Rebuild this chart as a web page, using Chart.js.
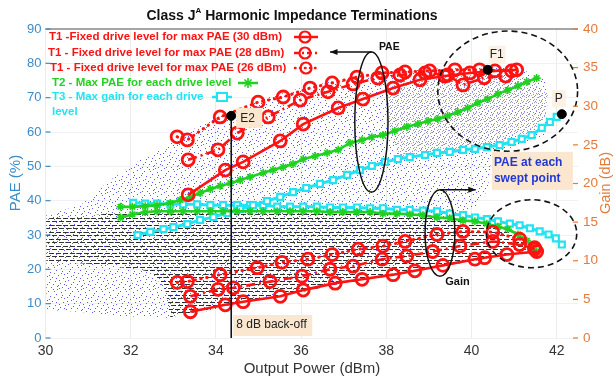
<!DOCTYPE html>
<html>
<head>
<meta charset="utf-8">
<script src="https://cdn.jsdelivr.net/npm/chart.js@4.4.1/dist/chart.umd.min.js"></script>
<style>
  html, body { margin: 0; padding: 0; background: #fff; }
  canvas { display: block; }
</style>
</head>
<body>
<canvas id="c" width="615" height="381"></canvas>
<script>
// ---------- tick labels ----------
const powerTicks = [30, 32, 34, 36, 38, 40, 42];            // Output power (dBm)
const paeTicks   = [0, 10, 20, 30, 40, 50, 60, 70, 80, 90]; // PAE (%)
const gainTicks  = [0, 5, 10, 15, 20, 25, 30, 35, 40];      // Gain (dB)

// ---------- T1: fixed drive level, PAE (%) vs Pout (dBm) ----------
const t1Drive30Pae = [[33.35,41.7],[34.22,48.9],[34.64,51.3],[35.51,57.4],[36.05,62.3],[36.87,67.0],[37.45,69.6],[38.16,72.8],[38.79,75.2],[39.37,76.3],[39.96,77.2],[40.55,77.8],[41.06,78.1]];
const t1Drive28Pae = [[33.35,51.9],[34.05,54.8],[34.5,59.7],[35.23,64.4],[35.98,69.3],[36.63,71.7],[37.22,74.0],[37.8,75.7],[38.32,76.6],[38.91,77.2],[39.44,76.6],[39.8,73.7],[40.3,75.8],[40.8,76.3]];
const t1Drive26Pae = [[33.09,58.6],[33.33,57.7],[34.1,64.4],[34.99,68.7],[35.58,70.2],[36.21,72.8],[36.73,74.3],[37.31,76.0],[37.9,77.2],[38.44,77.5],[39.02,77.8],[39.61,78.1],[40.19,78.1],[40.94,77.8]];

// ---------- T1: fixed drive level, gain (dB) vs Pout (dBm) ----------
const t1Drive30Gain = [[33.4,3.4],[34.22,4.3],[34.64,4.7],[35.51,5.4],[36.05,6.2],[36.8,7.1],[37.43,7.6],[38.16,8.2],[38.67,8.7],[39.33,9.4],[40.08,10.2],[40.31,10.4],[40.83,10.8],[41.53,11.2]];
const t1Drive28Gain = [[33.4,5.4],[34.05,6.3],[34.41,6.5],[35.27,7.3],[36.02,8.0],[36.68,8.9],[37.22,9.3],[37.9,10.2],[38.48,10.6],[39.09,11.2],[39.73,11.9],[40.5,12.5],[41.13,12.1],[41.48,11.5]];
const t1Drive26Gain = [[33.09,7.2],[33.33,7.3],[34.1,8.2],[34.97,9.1],[35.55,9.8],[36.16,10.2],[36.73,10.8],[37.34,11.5],[37.92,11.9],[38.44,12.5],[39.19,13.4],[39.8,13.8],[40.5,13.7],[41.13,12.8],[41.48,11.7]];

// ---------- T2: max PAE for each drive level ----------
const t2Pae = [[31.76,38.2],[32.04,38.2],[32.34,38.4],[32.62,38.7],[32.93,39.3],[33.16,40.2],[33.4,41.1],[33.63,42.2],[33.87,43.4],[34.1,44.3],[34.34,45.1],[34.57,46.0],[34.8,46.9],[35.11,48.1],[35.34,48.9],[35.58,49.8],[35.81,50.7],[36.05,52.1],[36.33,53.0],[36.61,53.9],[36.87,54.8],[37.15,56.8],[37.43,57.7],[37.66,58.5],[37.92,59.1],[38.2,60.3],[38.48,61.5],[38.74,62.3],[38.98,63.2],[39.21,63.8],[39.44,64.7],[39.68,65.8],[39.91,67.0],[40.15,68.5],[40.38,69.6],[40.62,71.1],[40.85,72.2],[41.09,73.4],[41.3,74.6],[41.53,75.7]];
const t2Gain = [[31.76,15.6],[32.04,16.0],[32.34,16.3],[32.62,16.4],[32.93,16.4],[33.23,16.4],[33.56,16.4],[33.87,16.4],[34.17,16.4],[34.5,16.4],[34.8,16.4],[35.11,16.4],[35.44,16.4],[35.74,16.4],[36.05,16.4],[36.37,16.4],[36.68,16.3],[36.98,16.3],[37.31,16.3],[37.62,16.3],[37.92,16.1],[38.25,16.1],[38.55,16.0],[38.86,15.9],[39.19,15.6],[39.49,15.5],[39.8,15.2],[40.08,15.1],[40.36,14.8],[40.62,14.4],[40.85,14.1],[41.09,13.4],[41.3,12.6],[41.44,11.7],[41.53,11.2]];

// ---------- T3: max gain for each drive level ----------
const t3Pae = [[32.16,30.0],[32.46,30.9],[32.77,31.7],[33.0,32.3],[33.33,33.2],[33.63,34.4],[33.94,35.2],[34.27,36.4],[34.57,37.6],[34.87,38.7],[35.2,39.9],[35.51,41.1],[35.81,42.5],[36.12,43.7],[36.44,44.9],[36.75,46.0],[37.08,47.5],[37.38,48.9],[37.66,50.1],[37.97,51.3],[38.27,52.1],[38.55,52.7],[38.91,53.3],[39.19,53.9],[39.49,54.2],[39.8,54.8],[40.08,55.1],[40.36,55.6],[40.66,56.2],[40.94,57.1],[41.18,58.0],[41.41,59.1],[41.65,61.2],[41.84,62.9],[42.0,64.4]];
const t3Gain = [[32.06,17.5],[32.34,17.4],[32.62,17.4],[32.93,17.3],[33.23,17.3],[33.56,17.3],[33.87,17.2],[34.17,17.2],[34.5,17.2],[34.8,17.2],[35.11,17.2],[35.44,17.0],[35.74,17.0],[36.05,17.0],[36.37,17.0],[36.68,16.9],[36.98,16.9],[37.31,16.9],[37.62,16.8],[37.92,16.8],[38.25,16.6],[38.55,16.6],[38.86,16.5],[39.19,16.4],[39.49,16.1],[39.8,15.9],[40.08,15.6],[40.36,15.4],[40.62,15.1],[40.9,14.8],[41.13,14.6],[41.37,14.2],[41.6,13.8],[41.81,13.4],[41.98,12.9],[42.12,12.1]];

// ---------- highlighted operating points (Pout dBm, PAE %) ----------
const pointE2 = [34.36, 64.7];
const pointF1 = [40.38, 78.1];
const pointP  = [42.12, 65.2];

// ---------- outlines of the swept-point clouds ----------
// PAE of every swept load point (x: dBm, y: PAE %)
const sweptPaeRegion = [[30.02,35.8],[30.82,38.7],[31.52,46.0],[32.23,51.9],[33.05,57.7],[33.63,62.0],[34.34,65.8],[35.04,69.3],[35.98,72.8],[36.91,75.2],[37.85,76.9],[38.79,78.1],[39.96,79.2],[41.13,78.6],[41.72,75.2],[41.79,69.3],[41.72,59.1],[40.9,55.3],[40.48,54.2],[40.38,43.1],[40.15,38.7],[39.73,35.8],[39.26,28.5],[38.32,21.3],[35.98,14.0],[33.4,6.7],[32.81,5.8],[31.76,6.4],[30.82,7.6],[30.02,8.2]];
// densest cluster near peak PAE (x: dBm, y: PAE %)
const denseCloudRegion = [[38.13,75.2],[39.02,76.3],[40.19,76.9],[41.37,75.7],[41.79,70.8],[41.72,63.5],[41.37,59.7],[40.66,56.8],[39.73,55.3],[38.91,53.3],[38.32,51.8],[38.09,60.6],[38.04,69.3]];
// gain of every swept load point (x: dBm, y: gain dB)
const gainSweepRegion = [[30.02,15.5],[30.82,15.7],[31.76,16.3],[33.63,16.4],[35.98,16.4],[38.32,16.1],[39.49,15.5],[40.43,14.7],[41.06,13.4],[41.53,11.5],[41.53,11.1],[40.83,10.7],[40.08,10.0],[39.33,9.3],[38.16,8.1],[36.8,6.9],[36.05,6.0],[34.64,4.6],[33.4,3.2],[32.93,2.7],[32.81,6.3],[32.46,8.6],[31.29,9.5],[30.02,9.9]];

// ---------- colours / fonts ----------
const FONT = '"Liberation Sans", Arial, Helvetica, sans-serif';
const RED = '#ff1212', GREEN = '#1fd21f', CYAN = '#22e3ef';
const PAE_BLUE = '#3a8ccb', GAIN_ORANGE = '#e47a3c', BOX = '#fbe7cf';
Chart.defaults.font.family = FONT;

const pts = arr => arr.map(([x, y]) => ({ x, y }));

function t1Set(label, data, axis, dash, order) {
  return {
    label, data: pts(data), yAxisID: axis, showLine: true, order,
    borderColor: RED, borderWidth: dash === 'dot' ? 3 : 2.6,
    borderDash: dash === 'dot' ? [0.5, 5.5] : dash === 'dashdot' ? [9, 4, 2, 4] : [],
    borderCapStyle: dash === 'dot' ? 'round' : 'butt',
    pointStyle: 'circle', pointRadius: 6, pointBorderWidth: 2.8,
    pointBorderColor: RED, pointBackgroundColor: 'rgba(255,255,255,0)'
  };
}
function t2Set(label, data, axis) {
  return {
    label, data: pts(data), yAxisID: axis, showLine: true, order: 5,
    borderColor: GREEN, borderWidth: 2.6,
    pointStyle: 'star', pointRadius: 4, pointBorderWidth: 1.6,
    pointBorderColor: GREEN, pointBackgroundColor: GREEN
  };
}
function t3Set(label, data, axis) {
  return {
    label, data: pts(data), yAxisID: axis, showLine: true, order: 6,
    borderColor: CYAN, borderWidth: 3,
    pointStyle: 'rect', pointRadius: 4.2, pointBorderWidth: 2.2,
    pointBorderColor: CYAN, pointBackgroundColor: '#ffffff'
  };
}

const datasets = [
  t3Set('T3 PAE', t3Pae, 'y'),
  t3Set('T3 gain', t3Gain, 'y2'),
  t2Set('T2 PAE', t2Pae, 'y'),
  t2Set('T2 gain', t2Gain, 'y2'),
  t1Set('T1 30 dBm PAE', t1Drive30Pae, 'y', 'solid', 3),
  t1Set('T1 28 dBm PAE', t1Drive28Pae, 'y', 'dashdot', 3),
  t1Set('T1 26 dBm PAE', t1Drive26Pae, 'y', 'dot', 3),
  t1Set('T1 30 dBm gain', t1Drive30Gain, 'y2', 'solid', 3),
  t1Set('T1 28 dBm gain', t1Drive28Gain, 'y2', 'dashdot', 3),
  t1Set('T1 26 dBm gain', t1Drive26Gain, 'y2', 'dot', 3),
  { // 8 dB back-off marker line down from E2
    label: 'back-off', data: pts([pointE2, [pointE2[0], 0]]), yAxisID: 'y', showLine: true, order: 2,
    borderColor: '#111', borderWidth: 1.6, pointRadius: 0
  },
  {
    label: 'E2 / F1 / P', data: pts([pointE2, pointF1, pointP]), yAxisID: 'y', order: 1,
    pointStyle: 'circle', pointRadius: 4.5, pointBackgroundColor: '#000', pointBorderColor: '#000', pointBorderWidth: 1
  }
];

// ---------- annotation layout ----------
const loops = [
  { cx: 37.65, cy: 62.9, rx: 0.39, ry: 20.4, axis: 'y',  dashed: false },  // PAE bundle
  { cx: 39.26, cy: 13.6, rx: 0.35, ry: 5.6,  axis: 'y2', dashed: false },  // gain bundle
  { cx: 40.85, cy: 71.9, rx: 1.64, ry: 17.5, axis: 'y',  dashed: true },   // peak PAE ring
  { cx: 41.41, cy: 13.5, rx: 1.06, ry: 4.4,  axis: 'y2', dashed: true }    // saturated gain ring
];

// stipple tiles used to shade the swept-point clouds
const blueStipple = [[0,3],[5,1],[11,0],[17,2],[22,5],[2,8],[8,6],[14,7],[19,9],[23,12],[4,13],[10,11],[15,14],[20,16],[1,18],[7,17],[12,19],[18,21],[23,20],[3,23],[9,22],[14,23],[6,3],[13,4],[20,0],[1,11],[16,10],[8,14],[21,7],[11,16],[5,20],[17,17],[2,15],[19,13],[9,1],[22,23],[13,9],[6,9],[16,20],[10,21]];
const grayStipple = [[0,0],[4,1],[2,3],[5,4],[1,5]];

let patterns = null;
function makePatterns(ctx) {
  const tile = (w, h, draw) => {
    const c = document.createElement('canvas'); c.width = w; c.height = h;
    const g = c.getContext('2d'); draw(g); return ctx.createPattern(c, 'repeat');
  };
  return {
    blue: tile(24, 24, g => {
      g.fillStyle = 'rgba(25,25,255,0.72)';
      blueStipple.forEach(([x, y]) => g.fillRect(x, y, 1, 1));
    }),
    gray: tile(6, 6, g => {
      g.fillStyle = 'rgba(255,255,255,0.45)'; g.fillRect(0, 0, 6, 6);
      g.fillStyle = 'rgba(70,70,100,0.6)';
      grayStipple.forEach(([x, y]) => g.fillRect(x, y, 1, 1));
    }),
    hatch: tile(14, 7, g => {
      g.fillStyle = 'rgba(0,0,0,0.8)';
      g.fillRect(0, 1, 5, 1); g.fillRect(7, 1, 5, 1);
      g.fillRect(3, 4, 5, 1); g.fillRect(10, 4, 4, 1); g.fillRect(0, 4, 1, 1);
    })
  };
}

function fillRegion(ctx, outline, sx, sy, pattern) {
  ctx.beginPath();
  outline.forEach(([vx, vy], i) => {
    const px = sx.getPixelForValue(vx), py = sy.getPixelForValue(vy);
    i ? ctx.lineTo(px, py) : ctx.moveTo(px, py);
  });
  ctx.closePath();
  ctx.fillStyle = pattern; ctx.fill();
}

function arrow(ctx, x0, y0, x1, y1) {
  ctx.setLineDash([]); ctx.strokeStyle = '#111'; ctx.fillStyle = '#111'; ctx.lineWidth = 1.5;
  ctx.beginPath(); ctx.moveTo(x0, y0); ctx.lineTo(x1, y1); ctx.stroke();
  const a = Math.atan2(y1 - y0, x1 - x0), s = 8;
  ctx.beginPath(); ctx.moveTo(x1, y1);
  ctx.lineTo(x1 - s * Math.cos(a - 0.38), y1 - s * Math.sin(a - 0.38));
  ctx.lineTo(x1 - s * Math.cos(a + 0.38), y1 - s * Math.sin(a + 0.38));
  ctx.closePath(); ctx.fill();
}

function text(ctx, str, x, y, font, color, align) {
  ctx.font = font; ctx.fillStyle = color; ctx.textAlign = align || 'left'; ctx.textBaseline = 'middle';
  ctx.fillText(str, x, y);
}

const legendRows = [
  { label: 'T1 -Fixed drive level for max PAE (30 dBm)', color: RED,   x: 49, y: 37,  sym: 'solid',   s0: 294, s1: 318, m: 305 },
  { label: 'T1 - Fixed drive level for max PAE (28 dBm)', color: RED,  x: 48, y: 53,  sym: 'dashdot', s0: 294, s1: 318, m: 305 },
  { label: 'T1 - Fixed drive level for max PAE (26 dBm)', color: RED,  x: 50, y: 68,  sym: 'dot',     s0: 295, s1: 320, m: 306 },
  { label: 'T2 - Max PAE for each drive level',            color: GREEN, x: 52, y: 83, sym: 'star',    s0: 238, s1: 258, m: 248 },
  { label: 'T3 - Max gain for each drive',                 color: CYAN,  x: 52, y: 97, sym: 'rect',    s0: 212, s1: 232, m: 222 },
  { label: 'level',                                        color: CYAN,  x: 52, y: 112 }
];

const decor = {
  id: 'decor',
  beforeDatasetsDraw(chart) {
    const { ctx, chartArea: a, scales: { x, y, y2 } } = chart;
    if (!patterns) patterns = makePatterns(ctx);
    ctx.save();
    ctx.beginPath(); ctx.rect(a.left, a.top, a.width, a.height); ctx.clip();
    fillRegion(ctx, sweptPaeRegion, x, y, patterns.blue);
    fillRegion(ctx, denseCloudRegion, x, y, patterns.gray);
    fillRegion(ctx, gainSweepRegion, x, y2, patterns.hatch);
    ctx.restore();
  },
  afterDatasetsDraw(chart) {
    const { ctx, scales } = chart;
    const { x, y, y2 } = scales;
    ctx.save();

    // loops around the PAE / gain bundles and the saturation region
    loops.forEach(e => {
      const sy = scales[e.axis];
      const cx = x.getPixelForValue(e.cx), cy = sy.getPixelForValue(e.cy);
      const rx = Math.abs(x.getPixelForValue(e.cx + e.rx) - cx);
      const ry = Math.abs(sy.getPixelForValue(e.cy + e.ry) - cy);
      ctx.beginPath(); ctx.ellipse(cx, cy, rx, ry, 0, 0, Math.PI * 2);
      ctx.setLineDash(e.dashed ? [6, 4] : []);
      ctx.lineWidth = e.dashed ? 1.6 : 1.5; ctx.strokeStyle = '#111'; ctx.stroke();
    });
    ctx.setLineDash([]);

    // arrows from the loops
    const paeTop = loops[0].cy + loops[0].ry, gainTop = loops[1].cy + loops[1].ry;
    arrow(ctx, x.getPixelForValue(loops[0].cx), y.getPixelForValue(paeTop), x.getPixelForValue(36.68), y.getPixelForValue(paeTop));
    arrow(ctx, x.getPixelForValue(loops[1].cx), y2.getPixelForValue(gainTop), x.getPixelForValue(40.1), y2.getPixelForValue(gainTop));
    text(ctx, 'PAE', x.getPixelForValue(38.07), y.getPixelForValue(84.8), 'bold 10.5px ' + FONT, '#111', 'center');
    text(ctx, 'Gain', x.getPixelForValue(39.67), y2.getPixelForValue(7.2), 'bold 11px ' + FONT, '#111', 'center');

    // point labels
    const e2x = x.getPixelForValue(pointE2[0]), e2y = y.getPixelForValue(pointE2[1]);
    ctx.fillStyle = BOX; ctx.fillRect(e2x + 5, e2y - 8, 26, 20);
    text(ctx, 'E2', e2x + 9, e2y + 3, '12px ' + FONT, '#222');
    const f1x = x.getPixelForValue(pointF1[0]), f1y = y.getPixelForValue(pointF1[1]);
    ctx.fillStyle = '#fbf1e4'; ctx.fillRect(f1x + 1, f1y - 24, 17, 17);
    text(ctx, 'F1', f1x + 9, f1y - 15, '12px ' + FONT, '#222', 'center');
    const px = x.getPixelForValue(pointP[0]), py = y.getPixelForValue(pointP[1]);
    ctx.fillStyle = '#fbf1e4'; ctx.fillRect(px - 10, py - 24, 14, 17);
    text(ctx, 'P', px - 3, py - 15, '12px ' + FONT, '#222', 'center');

    // swept-point note
    const bx = x.getPixelForValue(40.48), by = y.getPixelForValue(54.2);
    ctx.fillStyle = BOX; ctx.fillRect(bx, by, 81, 38);
    text(ctx, 'PAE at each', bx + 2, by + 11, 'bold 12px ' + FONT, '#2237d4');
    text(ctx, 'swept point', bx + 2, by + 27, 'bold 12px ' + FONT, '#2237d4');

    // back-off note
    const ky = y.getPixelForValue(6.7);
    ctx.fillStyle = BOX; ctx.fillRect(e2x + 2, ky, 79, 21);
    text(ctx, '8 dB back-off', e2x + 5, ky + 10, '12px ' + FONT, '#222');

    // legend
    legendRows.forEach(r => {
      text(ctx, r.label, r.x, r.y, 'bold 11.5px ' + FONT, r.color);
      if (!r.sym) return;
      ctx.strokeStyle = r.color; ctx.lineWidth = 2.5; ctx.lineCap = 'butt';
      if (r.sym === 'dashdot') ctx.setLineDash([5, 3, 2, 3]);
      else if (r.sym === 'dot') { ctx.setLineDash([0.5, 4.5]); ctx.lineCap = 'round'; }
      else ctx.setLineDash([]);
      ctx.beginPath(); ctx.moveTo(r.s0, r.y); ctx.lineTo(r.s1, r.y); ctx.stroke();
      ctx.setLineDash([]); ctx.lineCap = 'butt';
      if (r.sym === 'solid' || r.sym === 'dashdot' || r.sym === 'dot') {
        ctx.beginPath(); ctx.arc(r.m, r.y, 5.5, 0, Math.PI * 2); ctx.lineWidth = 2.2; ctx.stroke();
      } else if (r.sym === 'star') {
        ctx.lineWidth = 1.6; ctx.beginPath();
        for (let k = 0; k < 4; k++) {
          const ang = k * Math.PI / 4;
          ctx.moveTo(r.m - 5 * Math.cos(ang), r.y - 5 * Math.sin(ang));
          ctx.lineTo(r.m + 5 * Math.cos(ang), r.y + 5 * Math.sin(ang));
        }
        ctx.stroke();
      } else if (r.sym === 'rect') {
        ctx.lineWidth = 2; ctx.fillStyle = '#fff';
        ctx.fillRect(r.m - 5, r.y - 4, 10, 8); ctx.strokeRect(r.m - 5, r.y - 4, 10, 8);
      }
    });
    ctx.restore();
  },
  afterDraw(chart) {
    const { ctx, chartArea: a, scales: { y, y2 } } = chart;
    ctx.save();
    // top frame line
    ctx.strokeStyle = '#8a8a8a'; ctx.lineWidth = 1.5;
    ctx.beginPath(); ctx.moveTo(a.left, a.top); ctx.lineTo(a.right, a.top); ctx.stroke();
    // inward tick marks
    ctx.lineWidth = 1.2;
    ctx.strokeStyle = PAE_BLUE;
    paeTicks.forEach(v => { const p = y.getPixelForValue(v); ctx.beginPath(); ctx.moveTo(a.left, p); ctx.lineTo(a.left + 5, p); ctx.stroke(); });
    ctx.strokeStyle = GAIN_ORANGE;
    gainTicks.forEach(v => { const p = y2.getPixelForValue(v); ctx.beginPath(); ctx.moveTo(a.right - 5, p); ctx.lineTo(a.right, p); ctx.stroke(); });

    // title with superscript
    const t1 = 'Class J', sup = 'A', t2 = ' Harmonic Impedance Terminations';
    const big = 'bold 14px ' + FONT, small = 'bold 8px ' + FONT;
    ctx.font = big; const w1 = ctx.measureText(t1).width, w3 = ctx.measureText(t2).width;
    ctx.font = small; const w2 = ctx.measureText(sup).width;
    let tx = 292 - (w1 + w2 + w3) / 2;
    text(ctx, t1, tx, 16, big, '#111'); tx += w1;
    text(ctx, sup, tx, 11, small, '#111'); tx += w2;
    text(ctx, t2, tx, 16, big, '#111');

    // axis titles
    text(ctx, 'Output Power (dBm)', 312, 369, '15px ' + FONT, '#333', 'center');
    ctx.save(); ctx.translate(16, 183); ctx.rotate(-Math.PI / 2);
    text(ctx, 'PAE (%)', 0, 0, '15px ' + FONT, PAE_BLUE, 'center'); ctx.restore();
    ctx.save(); ctx.translate(606, 183); ctx.rotate(-Math.PI / 2);
    text(ctx, 'Gain (dB)', 0, 0, '14.5px ' + FONT, GAIN_ORANGE, 'center'); ctx.restore();
    ctx.restore();
  }
};

new Chart(document.getElementById('c'), {
  type: 'scatter',
  data: { datasets },
  plugins: [decor],
  options: {
    responsive: false, animation: false, events: [],
    layout: { padding: { top: 29, left: 0, right: 0, bottom: 0 } },
    plugins: { legend: { display: false }, tooltip: { enabled: false }, title: { display: false } },
    elements: { line: { tension: 0 } },
    scales: {
      x: {
        type: 'linear', position: 'bottom', min: 30, max: 42.5,
        afterBuildTicks: s => { s.ticks = powerTicks.map(v => ({ value: v })); },
        afterFit: s => { s.height = 43; },
        grid: { color: '#ececec', drawTicks: false }, border: { display: false },
        ticks: { color: '#333', font: { size: 14 }, padding: 5 }
      },
      y: {
        type: 'linear', position: 'left', min: 0, max: 90,
        afterBuildTicks: s => { s.ticks = paeTicks.map(v => ({ value: v })); },
        afterFit: s => { s.width = 45.5; },
        grid: { color: '#eef2f6', drawTicks: false }, border: { display: false },
        ticks: { color: PAE_BLUE, font: { size: 13 }, padding: 4 }
      },
      y2: {
        type: 'linear', position: 'right', min: 0, max: 40,
        afterBuildTicks: s => { s.ticks = gainTicks.map(v => ({ value: v })); },
        afterFit: s => { s.width = 37; },
        grid: { display: false, drawTicks: false }, border: { display: false },
        ticks: { color: GAIN_ORANGE, font: { size: 13.5 }, padding: 5 }
      }
    }
  }
});
</script>
</body>
</html>
